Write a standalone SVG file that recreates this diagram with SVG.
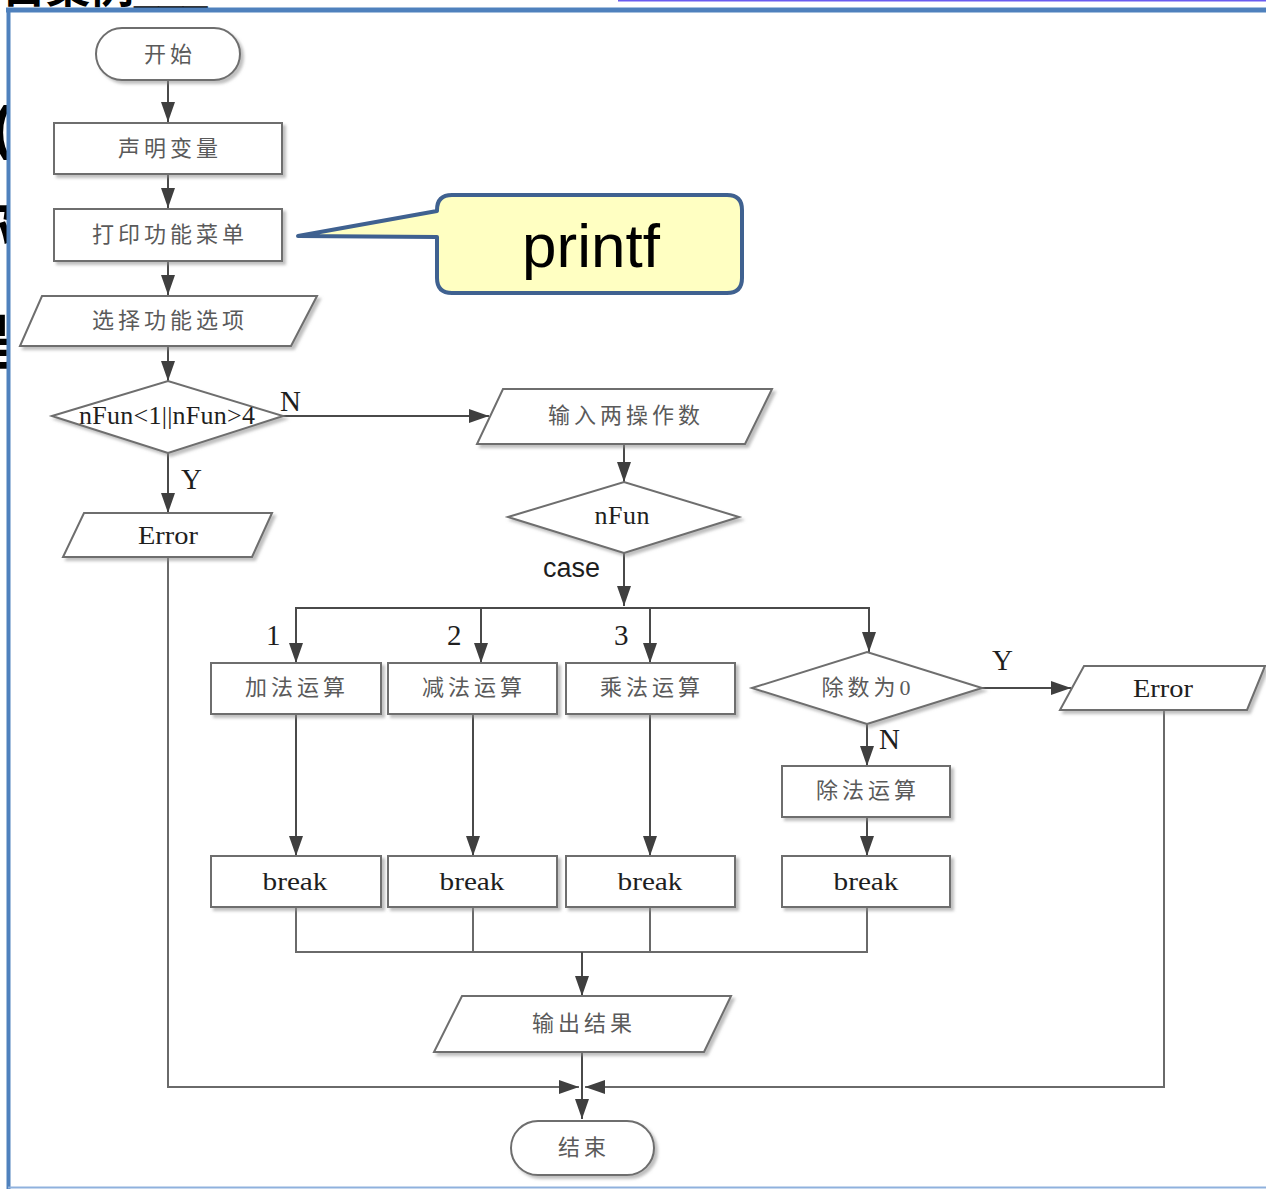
<svg xmlns="http://www.w3.org/2000/svg" width="1266" height="1189" viewBox="0 0 1266 1189">
  <defs>
    <filter id="shadow" x="-10%" y="-10%" width="125%" height="140%">
      <feDropShadow dx="3" dy="3" stdDeviation="1.6" flood-color="#8a8a8a" flood-opacity="0.55"/>
    </filter>
    <marker id="arrow" viewBox="0 0 20 14" refX="20" refY="7" markerWidth="20" markerHeight="14" markerUnits="userSpaceOnUse" orient="auto">
      <path d="M0,0 L20,7 L0,14 Z" fill="#3f3f3f"/>
    </marker>
    <style>
      .shape { fill: #ffffff; stroke: #6e6e6e; stroke-width: 2; filter: url(#shadow); }
      .cn { font-family: "Liberation Serif", "Noto Sans CJK SC", serif; font-size: 22px; letter-spacing: 4px; fill: #5a5a5a; text-anchor: middle; }
      .lat { font-family: "Liberation Serif", "Times New Roman", serif; font-size: 26px; fill: #1e1e1e; text-anchor: middle; }
      .lbl { font-family: "Liberation Serif", "Times New Roman", serif; font-size: 29px; fill: #1e1e1e; }
      .line { fill: none; stroke: #4a4a4a; stroke-width: 2; }
      .join { fill: none; stroke: #6a6a6a; stroke-width: 2; }
      .bg { font-family: "Liberation Sans", "Noto Sans CJK SC", sans-serif; font-weight: bold; fill: #000000; }
    </style>
  </defs>

  <!-- page text lying behind the framed panel -->
  <g id="page-behind">
    <text class="bg" x="2" y="3" font-size="44">目案例___</text>
    <text class="bg" x="12" y="148" font-size="60" text-anchor="end">(</text>
    <text class="bg" x="14" y="246" font-size="60" text-anchor="end">你</text>
    <text class="bg" x="14" y="364" font-size="60" text-anchor="end">是</text>
    <line x1="618" y1="0.5" x2="1266" y2="0.5" stroke="#6a5cf0" stroke-width="2"/>
  </g>

  <!-- framed panel -->
  <g id="frame">
    <rect x="8" y="10" width="1260" height="1178" fill="#ffffff"/>
    <line x1="6" y1="10" x2="1266" y2="10" stroke="#4f81bd" stroke-width="5"/>
    <line x1="8.5" y1="8" x2="8.5" y2="1189" stroke="#4f81bd" stroke-width="4"/>
    <line x1="8" y1="1187.5" x2="1266" y2="1187.5" stroke="#8fb1dd" stroke-width="2"/>
  </g>

  <!-- connectors -->
  <g id="connectors">
    <path class="line" d="M168,80 V122" marker-end="url(#arrow)"/>
    <path class="line" d="M168,174 V208" marker-end="url(#arrow)"/>
    <path class="line" d="M168,261 V295" marker-end="url(#arrow)"/>
    <path class="line" d="M168,346 V381" marker-end="url(#arrow)"/>
    <path class="line" d="M283,416 H489" marker-end="url(#arrow)"/>
    <path class="line" d="M168,453 V513" marker-end="url(#arrow)"/>
    <path class="line" d="M624,444 V482" marker-end="url(#arrow)"/>
    <path class="line" d="M624,553 V606" marker-end="url(#arrow)"/>
    <path class="line" d="M624,608 H296 V663" marker-end="url(#arrow)"/>
    <path class="line" d="M624,608 H869 V652" marker-end="url(#arrow)"/>
    <path class="line" d="M481,608 V663" marker-end="url(#arrow)"/>
    <path class="line" d="M650,608 V663" marker-end="url(#arrow)"/>
    <path class="line" d="M296,714 V856" marker-end="url(#arrow)"/>
    <path class="line" d="M473,714 V856" marker-end="url(#arrow)"/>
    <path class="line" d="M650,714 V856" marker-end="url(#arrow)"/>
    <path class="line" d="M982,688 H1071" marker-end="url(#arrow)"/>
    <path class="line" d="M867,724 V766" marker-end="url(#arrow)"/>
    <path class="line" d="M867,817 V856" marker-end="url(#arrow)"/>
    <path class="join" d="M296,907 V952 H867 V907"/>
    <path class="join" d="M473,907 V952"/>
    <path class="join" d="M650,907 V952"/>
    <path class="line" d="M582,952 V996" marker-end="url(#arrow)"/>
    <path class="line" d="M582,1052 V1119" marker-end="url(#arrow)"/>
    <path class="join" d="M168,558 V1087 H579" marker-end="url(#arrow)"/>
    <path class="join" d="M1164,710 V1087 H585" marker-end="url(#arrow)"/>
  </g>

  <!-- branch labels -->
  <g id="labels">
    <text class="lbl" x="280" y="411">N</text>
    <text class="lbl" x="181" y="489">Y</text>
    <text x="543" y="577" font-family="Liberation Sans, Arial, sans-serif" font-size="27" fill="#1e1e1e">case</text>
    <text class="lbl" x="266" y="645">1</text>
    <text class="lbl" x="447" y="645">2</text>
    <text class="lbl" x="614" y="645">3</text>
    <text class="lbl" x="992" y="670">Y</text>
    <text class="lbl" x="879" y="749">N</text>
  </g>

  <!-- nodes -->
  <g id="start">
    <rect class="shape" x="96" y="28" width="144" height="52" rx="26"/>
    <text class="cn" x="170" y="62">开始</text>
  </g>
  <g id="declare">
    <rect class="shape" x="54" y="123" width="228" height="51"/>
    <text class="cn" x="170" y="156">声明变量</text>
  </g>
  <g id="menu">
    <rect class="shape" x="54" y="209" width="228" height="52"/>
    <text class="cn" x="170" y="242">打印功能菜单</text>
  </g>
  <g id="choose">
    <polygon class="shape" points="42,296 317,296 291,346 20,346"/>
    <text class="cn" x="170" y="328">选择功能选项</text>
  </g>
  <g id="range-check">
    <polygon class="shape" points="52,416 168,381 283,416 168,453"/>
    <text class="lat" x="167" y="424" font-size="21" textLength="176" lengthAdjust="spacing">nFun&lt;1||nFun&gt;4</text>
  </g>
  <g id="error-left">
    <polygon class="shape" points="84,513 272,513 252,557 63,557"/>
    <text class="lat" x="168" y="544" textLength="60" lengthAdjust="spacingAndGlyphs">Error</text>
  </g>
  <g id="input">
    <polygon class="shape" points="503,389 772,389 745,444 477,444"/>
    <text class="cn" x="626" y="423">输入两操作数</text>
  </g>
  <g id="switch">
    <polygon class="shape" points="508,517 624,482 739,517 624,553"/>
    <text class="lat" x="622" y="524" font-size="23" textLength="55" lengthAdjust="spacing">nFun</text>
  </g>
  <g id="add">
    <rect class="shape" x="211" y="663" width="170" height="51"/>
    <text class="cn" x="297" y="695">加法运算</text>
  </g>
  <g id="sub">
    <rect class="shape" x="388" y="663" width="169" height="51"/>
    <text class="cn" x="474" y="695">减法运算</text>
  </g>
  <g id="mul">
    <rect class="shape" x="566" y="663" width="169" height="51"/>
    <text class="cn" x="652" y="695">乘法运算</text>
  </g>
  <g id="zero-check">
    <polygon class="shape" points="752,688 867,652 982,688 867,724"/>
    <text class="cn" x="868" y="695">除数为0</text>
  </g>
  <g id="error-right">
    <polygon class="shape" points="1084,666 1265,666 1247,710 1060,710"/>
    <text class="lat" x="1163" y="697" textLength="60" lengthAdjust="spacingAndGlyphs">Error</text>
  </g>
  <g id="div">
    <rect class="shape" x="782" y="766" width="168" height="51"/>
    <text class="cn" x="868" y="798">除法运算</text>
  </g>
  <g id="break-add">
    <rect class="shape" x="211" y="856" width="170" height="51"/>
    <text class="lat" x="295" y="890" textLength="65" lengthAdjust="spacingAndGlyphs">break</text>
  </g>
  <g id="break-sub">
    <rect class="shape" x="388" y="856" width="169" height="51"/>
    <text class="lat" x="472" y="890" textLength="65" lengthAdjust="spacingAndGlyphs">break</text>
  </g>
  <g id="break-mul">
    <rect class="shape" x="566" y="856" width="169" height="51"/>
    <text class="lat" x="650" y="890" textLength="65" lengthAdjust="spacingAndGlyphs">break</text>
  </g>
  <g id="break-div">
    <rect class="shape" x="782" y="856" width="168" height="51"/>
    <text class="lat" x="866" y="890" textLength="65" lengthAdjust="spacingAndGlyphs">break</text>
  </g>
  <g id="output">
    <polygon class="shape" points="462,996 731,996 704,1052 434,1052"/>
    <text class="cn" x="584" y="1031">输出结果</text>
  </g>
  <g id="end">
    <rect class="shape" x="511" y="1121" width="143" height="54" rx="27"/>
    <text class="cn" x="584" y="1155">结束</text>
  </g>

  <!-- callout for the menu step -->
  <g id="callout-printf">
    <path d="M452,195 H727 Q742,195 742,210 V278 Q742,293 727,293 H452 Q437,293 437,278 V237 L298,236 L437,211 V210 Q437,195 452,195 Z" fill="#ffffc2" stroke="#3f6190" stroke-width="4" stroke-linejoin="round"/>
    <text x="591" y="267" font-family="Liberation Sans, Arial, sans-serif" font-size="62" fill="#000000" text-anchor="middle">printf</text>
  </g>
</svg>
